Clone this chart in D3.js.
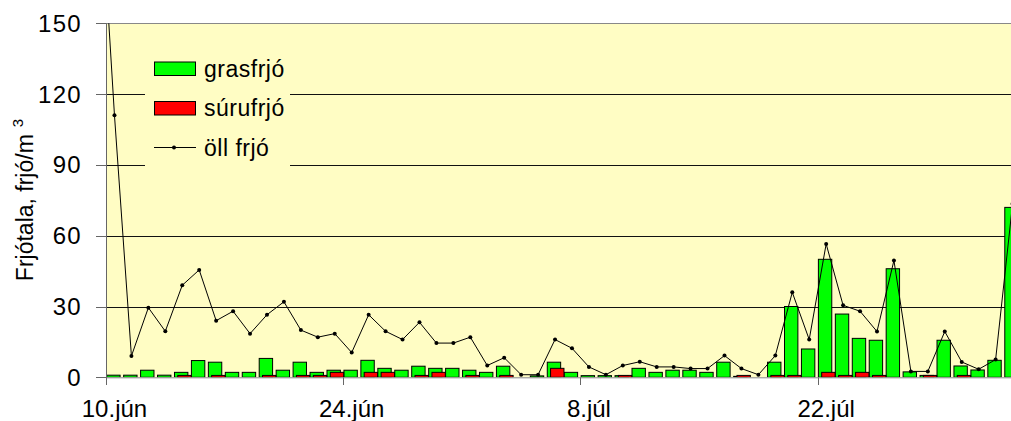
<!DOCTYPE html>
<html>
<head>
<meta charset="utf-8">
<script src="https://cdn.jsdelivr.net/npm/d3@7"></script>
<style>
  body{margin:0;background:#fff;}
  svg{display:block;font-family:"Liberation Sans",Arial,sans-serif;}
</style>
</head>
<body>
<svg id="svg1" width="1011" height="421"></svg>
<script>
// dagsetningar, 9.jún - 2.ág
var days = ["9.jún","10.jún","11.jún","12.jún","13.jún","14.jún","15.jún","16.jún","17.jún","18.jún","19.jún",
  "20.jún","21.jún","22.jún","23.jún","24.jún","25.jún","26.jún","27.jún","28.jún","29.jún","30.jún",
  "1.júl","2.júl","3.júl","4.júl","5.júl","6.júl","7.júl","8.júl","9.júl","10.júl","11.júl","12.júl",
  "13.júl","14.júl","15.júl","16.júl","17.júl","18.júl","19.júl","20.júl","21.júl","22.júl","23.júl",
  "24.júl","25.júl","26.júl","27.júl","28.júl","29.júl","30.júl","31.júl","1.ág","2.ág"]

var grasfrjo = [2, 0.9,0.9,3,0.9,2.1,7.1,6.4,2.1,2.1,8,
  3,6.4,2.1,3,3,7.2,3.8,3,4.7,3.8,3.8,
  3,2.1,4.7,0,0.6,6.4,2.1,0.7,0.7,0.7,3.8,2.1,
  3,3,2.1,6.4,0.4,0,6.4,30,12,50,26.8,
  16.5,15.7,46,2.3,0.8,15.7,4.8,3.1,7.2,72]

var surufrjo = [0, 0,0,0,0,0.8,0,0.8,0,0,0.8,
  0,0.8,0.8,2.1,0,2.1,2.1,0,0.8,2.1,0,
  0.8,0,0.8,0,0,3.8,0,0,0,0.8,0,0,
  0,0,0,0,0.8,0,0.8,0.8,0,2.1,0.8,
  2.1,0.8,0,0,0.8,0,0.8,0,0,0]

var ollfrjo = [228, 111,9,29.5,19.5,39,45.5,24,28,18.5,26.5,
  32,20,17,18.5,10.5,26.5,19.5,16,23.3,14.5,14.5,
  17,5,8.3,1.1,1.1,16,12.3,4.4,1.1,5,6.6,4.4,
  4.4,3.7,3.7,9.2,3.7,1.1,9.2,36,16,56.5,30.5,
  28,19.4,49.5,2.5,2.5,19.4,6.5,3.4,7.5,73.5]

var yticks = [0,30,60,90,120,150]
var xticklabels = ["10.jún","24.jún","8.júl","22.júl"]

var svg = d3.select("#svg1")
var pLeft=106, pTop=23.3, pBottom=377.3, step=16.945
var pRight=1030

var x = d3.scaleBand().domain(days)
  .range([pLeft-step, pLeft-step+days.length*step]).padding(0)
var y = d3.scaleLinear().domain([0,150]).range([pBottom,pTop])
var bw = x.bandwidth()

svg.append("defs").append("clipPath").attr("id","clip")
  .append("rect").attr("x",pLeft).attr("y",pTop).attr("width",pRight-pLeft).attr("height",pBottom-pTop)

svg.append("rect").attr("x",pLeft).attr("y",pTop).attr("width",pRight-pLeft).attr("height",pBottom-pTop)
  .attr("fill","#fffdc4")

// gridlines
svg.selectAll("line.grid").data(yticks.filter(function(d){return d>0 && d<150}))
  .enter().append("line").attr("class","grid")
  .attr("x1",pLeft).attr("x2",pRight)
  .attr("y1",function(d){return Math.round(y(d))+0.5})
  .attr("y2",function(d){return Math.round(y(d))+0.5})
  .attr("stroke","#111").attr("stroke-width",1)
svg.append("line").attr("x1",pLeft).attr("x2",pRight)
  .attr("y1",Math.round(pTop)+0.5).attr("y2",Math.round(pTop)+0.5)
  .attr("stroke","#888")

var g = svg.append("g").attr("clip-path","url(#clip)")

var gi = days.map(function(d,i){return i})

g.selectAll("rect.gras").data(gi.filter(function(i){return grasfrjo[i]>0}))
  .enter().append("rect").attr("class","gras")
  .attr("x",function(i){return x(days[i])+0.7})
  .attr("width",bw*0.79)
  .attr("y",function(i){return y(grasfrjo[i])})
  .attr("height",function(i){return pBottom-y(grasfrjo[i])})
  .attr("fill","#00ff00").attr("stroke","#000").attr("stroke-width",1)

g.selectAll("rect.suru").data(gi.filter(function(i){return surufrjo[i]>0}))
  .enter().append("rect").attr("class","suru")
  .attr("x",function(i){return x(days[i])+4})
  .attr("width",bw*0.79)
  .attr("y",function(i){return y(surufrjo[i])})
  .attr("height",function(i){return pBottom-y(surufrjo[i])})
  .attr("fill","#ff0000").attr("stroke","#000").attr("stroke-width",1)

var line = d3.line()
  .x(function(i){return x(days[i])+bw/2})
  .y(function(i){return y(ollfrjo[i])})
g.append("path").datum(gi).attr("d",line)
  .attr("fill","none").attr("stroke","#000").attr("stroke-width",1)
g.selectAll("circle").data(gi).enter().append("circle")
  .attr("cx",function(i){return x(days[i])+bw/2})
  .attr("cy",function(i){return y(ollfrjo[i])})
  .attr("r",2).attr("fill","#000")

// legend
var lg = svg.append("g")
lg.append("rect").attr("x",145).attr("y",42).attr("width",145).attr("height",130).attr("fill","#fffdc4")
var legItems = [
  {name:"grasfrjó", color:"#00ff00", type:"bar"},
  {name:"súrufrjó", color:"#ff0000", type:"bar"},
  {name:"öll frjó", color:"#000", type:"line"}
]
legItems.forEach(function(it,k){
  var cy = 69 + k*39.5
  if(it.type=="bar"){
    lg.append("rect").attr("x",154.5).attr("y",cy-7).attr("width",41).attr("height",13.5)
      .attr("fill",it.color).attr("stroke","#000")
  } else {
    lg.append("line").attr("x1",154).attr("x2",196).attr("y1",cy-0.5).attr("y2",cy-0.5).attr("stroke","#000")
    lg.append("circle").attr("cx",174).attr("cy",cy-0.5).attr("r",2).attr("fill","#000")
  }
  lg.append("text").attr("x",204).attr("y",cy+7.5).attr("font-size",23)
    .attr("letter-spacing",0.5).attr("fill","#000").text(it.name)
})

// axes
svg.append("line").attr("x1",pLeft+0.5).attr("x2",pLeft+0.5).attr("y1",pTop).attr("y2",385)
  .attr("stroke","#666")
svg.append("line").attr("x1",pLeft).attr("x2",pRight).attr("y1",pBottom+0.5).attr("y2",pBottom+0.5)
  .attr("stroke","#888")
svg.selectAll("line.yt").data(yticks).enter().append("line").attr("class","yt")
  .attr("x1",96).attr("x2",pLeft)
  .attr("y1",function(d){return Math.round(y(d))+0.5})
  .attr("y2",function(d){return Math.round(y(d))+0.5})
  .attr("stroke","#666")
svg.selectAll("text.yl").data(yticks).enter().append("text").attr("class","yl")
  .attr("x",82).attr("y",function(d){return y(d)+8.5})
  .attr("text-anchor","end").attr("font-size",24).attr("letter-spacing",1.3)
  .attr("fill","#000").text(function(d){return d})

svg.selectAll("line.xt").data(xticklabels).enter().append("line").attr("class","xt")
  .attr("x1",function(d){return Math.round(x(d))+0.5})
  .attr("x2",function(d){return Math.round(x(d))+0.5})
  .attr("y1",pBottom).attr("y2",385).attr("stroke","#666")
svg.selectAll("text.xl").data(xticklabels).enter().append("text").attr("class","xl")
  .attr("x",function(d){return x(d)+bw/2})
  .attr("y",417).attr("text-anchor","middle").attr("font-size",24)
  .attr("fill","#000").text(function(d){return d})

var yt = svg.append("text").attr("transform","translate(33,200) rotate(-90)")
  .attr("text-anchor","middle").attr("font-size",23).attr("fill","#000")
yt.append("tspan").text("Frjótala, frjó/m")
yt.append("tspan").attr("dx",7).attr("dy",-10).attr("font-size",15).text("3")
</script>
</body>
</html>
